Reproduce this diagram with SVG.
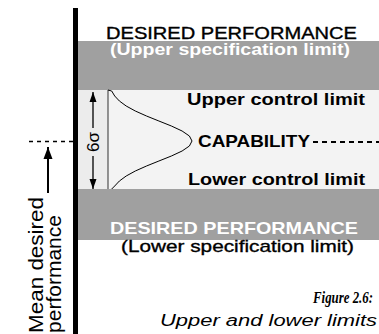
<svg xmlns="http://www.w3.org/2000/svg" width="379" height="334" viewBox="0 0 379 334">
<style>
.s{font-family:"Liberation Sans",Arial,Helvetica,sans-serif;}
.b{font-weight:bold;}
.blk{fill:#000;}
.wht{fill:#fff;}
.med{fill:#000;stroke:#000;stroke-width:0.35;}
.band{fill:#a0a0a0;}
.ln{stroke:#000;fill:none;}
</style>
<defs>
<marker id="ah" viewBox="0 0 10 10" refX="10" refY="5" markerWidth="10" markerHeight="10" markerUnits="userSpaceOnUse" orient="auto">
<path d="M0,1.5 L10,5 L0,8.5 Z" fill="#000"/>
</marker>
<marker id="ah2" viewBox="0 0 12 10" refX="12" refY="5" markerWidth="12" markerHeight="10" markerUnits="userSpaceOnUse" orient="auto">
<path d="M0,0.5 L12,5 L0,9.5 Z" fill="#000"/>
</marker>
</defs>
<rect width="379" height="334" fill="#fff"/>

<g id="capability-zone">
<rect x="78" y="90" width="301" height="99" fill="#f3f3f3"/>
<rect x="78" y="90" width="30" height="99" fill="#ececec"/>
</g>

<g id="upper-spec-band">
<rect class="band" x="78" y="41" width="301" height="49"/>
<text class="s med" x="106" y="39" font-size="16.5" textLength="251" lengthAdjust="spacingAndGlyphs">DESIRED PERFORMANCE</text>
<text class="s b wht" x="110" y="55" font-size="16.5" textLength="240" lengthAdjust="spacingAndGlyphs">(Upper specification limit)</text>
</g>

<g id="lower-spec-band">
<rect class="band" x="78" y="189" width="301" height="51"/>
<text class="s b wht" x="110" y="234" font-size="17" textLength="248" lengthAdjust="spacingAndGlyphs">DESIRED PERFORMANCE</text>
<text class="s med" x="121" y="252" font-size="17" textLength="233" lengthAdjust="spacingAndGlyphs">(Lower specification limit)</text>
</g>

<g id="control-limits">
<text class="s b blk" x="187" y="105" font-size="16" textLength="178" lengthAdjust="spacingAndGlyphs">Upper control limit</text>
<text class="s b blk" x="198" y="147" font-size="17" textLength="112" lengthAdjust="spacingAndGlyphs">CAPABILITY</text>
<text class="s b blk" x="188" y="185" font-size="16" textLength="177" lengthAdjust="spacingAndGlyphs">Lower control limit</text>
</g>

<g id="distribution">
<line class="ln" x1="108" y1="90" x2="108" y2="189" stroke-width="0.8"/>
<path class="ln" stroke-width="1" d="M108,90 L111.7,91 L114.7,96 L119.4,101 L126.2,106 L135.3,111 L146.5,116 L158.9,121 L171.4,126 L182.1,131 L189.4,136 L192,141 L189.4,146 L182.1,151 L171.4,156 L158.9,161 L146.5,166 L135.3,171 L126.2,176 L119.4,181 L114.7,186 L111.7,189"/>
</g>

<g id="connectors">
<line class="ln" x1="93" y1="128" x2="93" y2="92" stroke-width="1.3" marker-end="url(#ah)"/>
<line class="ln" x1="93" y1="156" x2="93" y2="189" stroke-width="1.3" marker-end="url(#ah)"/>
<line class="ln" x1="313" y1="142" x2="379" y2="142" stroke-width="2" stroke-dasharray="5,4"/>
<line class="ln" x1="29" y1="141.5" x2="73" y2="141.5" stroke-width="1.5" stroke-dasharray="4,4"/>
<line class="ln" x1="48" y1="193" x2="48" y2="147" stroke-width="2" marker-end="url(#ah2)"/>
</g>

<g id="sigma-label">
<text class="s blk" transform="translate(99,152) rotate(-90)" font-size="17" textLength="20" lengthAdjust="spacingAndGlyphs">6σ</text>
</g>

<g id="axis">
<rect x="73" y="8" width="5" height="326" fill="#000"/>
</g>

<g id="mean-label">
<text class="s blk" transform="translate(43,333) rotate(-90)" font-size="21" textLength="136" lengthAdjust="spacingAndGlyphs">Mean desired</text>
<text class="s blk" transform="translate(61,333) rotate(-90)" font-size="21" textLength="118" lengthAdjust="spacingAndGlyphs">performance</text>
</g>

<g id="caption">
<text x="313" y="303" font-family="'Liberation Serif','Times New Roman',serif" font-weight="bold" font-style="italic" font-size="17" textLength="60" lengthAdjust="spacingAndGlyphs">Figure 2.6:</text>
<text class="s" x="160" y="326" font-style="italic" font-size="16" textLength="217" lengthAdjust="spacingAndGlyphs">Upper and lower limits</text>
</g>
</svg>
